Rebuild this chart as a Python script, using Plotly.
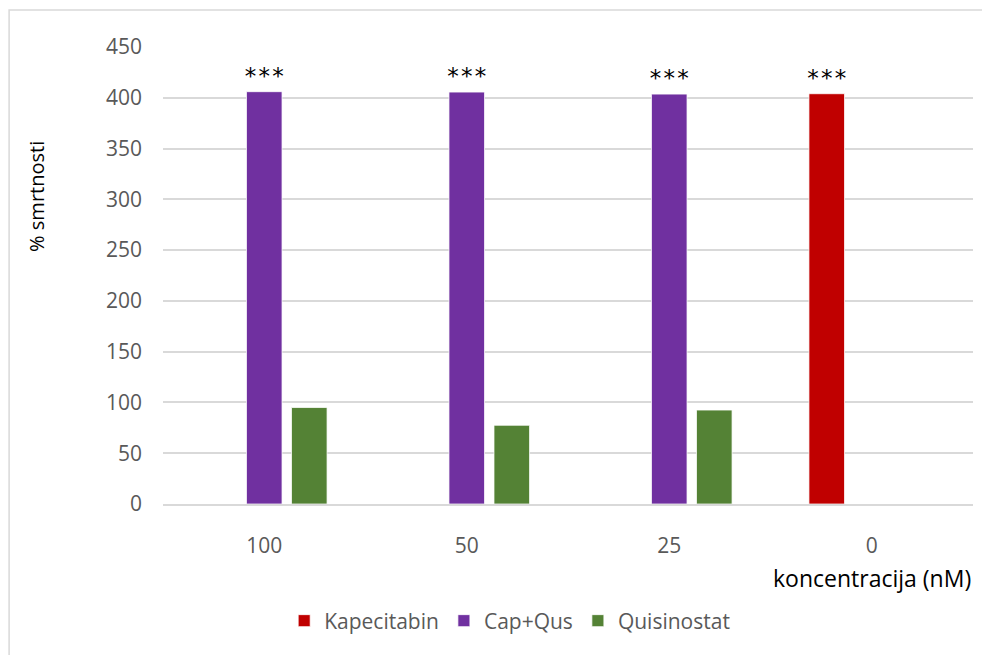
import plotly.graph_objects as go

categories = ["100", "50", "25", "0"]
kapecitabin = [None, None, None, 404]
cap_qus = [406, 405.6, 403.6, None]
quisinostat = [95, 77.5, 92.5, None]
stars = "*\u200a*\u200a*"
kap_text = ["", "", "", stars]
capqus_text = [stars, stars, stars, ""]
y_ticks = [0, 50, 100, 150, 200, 250, 300, 350, 400, 450]

FONT = "Open Sans"
fig = go.Figure()
common = dict(textposition="outside", cliponaxis=False, constraintext="none",
              textfont=dict(family="DejaVu Sans", size=23, color="#000000"),
              marker_line=dict(color="#ffffff", width=0.75))
fig.add_trace(go.Bar(name="Kapecitabin", x=categories, y=kapecitabin, text=kap_text,
                     marker_color="#C00000", **common))
fig.add_trace(go.Bar(name="Cap+Qus", x=categories, y=cap_qus, text=capqus_text,
                     marker_color="#7030A0", **common))
fig.add_trace(go.Bar(name="Quisinostat", x=categories, y=quisinostat,
                     marker_color="#548235", textposition="none",
                     marker_line=dict(color="#ffffff", width=0.75)))

fig.update_layout(
    width=990, height=655,
    margin=dict(l=155, r=25, t=39, b=159),
    paper_bgcolor="white", plot_bgcolor="white",
    barmode="group", bargap=0.333, bargroupgap=0.21,
    font=dict(family=FONT, size=17, color="#595959"),
    showlegend=True,
    legend=dict(orientation="h", x=0.428, xanchor="center", y=-0.256, yanchor="middle",
                font=dict(family=FONT, size=21, color="#595959"),
                itemwidth=30, traceorder="normal"),
)
fig.update_yaxes(range=[0, 450], tickvals=y_ticks, showgrid=True, gridcolor="#d9d9d9",
                 gridwidth=1.5, zeroline=False, showline=False, ticks="",
                 ticklabelstandoff=20,
                 tickfont=dict(size=21, color="#595959"))
fig.add_annotation(text="% smrtnosti", xref="paper", yref="paper", x=0, y=0.672,
                   xshift=-126, textangle=-90, xanchor="center", yanchor="middle",
                   showarrow=False, font=dict(family=FONT, size=20, color="#000000"))
fig.update_xaxes(showline=True, linecolor="#d9d9d9", linewidth=1.5, ticks="",
                 ticklabelstandoff=22,
                 tickfont=dict(size=21, color="#595959"))
fig.add_annotation(text="koncentracija (nM)", xref="paper", yref="paper", x=1.0, y=-0.162,
                   xanchor="right", yanchor="middle", showarrow=False,
                   font=dict(family=FONT, size=23, color="#000000"))
fig.add_shape(type="rect", xref="paper", yref="paper", x0=-0.19, y0=-0.4, x1=1.1, y1=1.081,
              line=dict(color="#d9d9d9", width=1.5), fillcolor="rgba(0,0,0,0)", layer="below")

fig.write_html("out.html")
